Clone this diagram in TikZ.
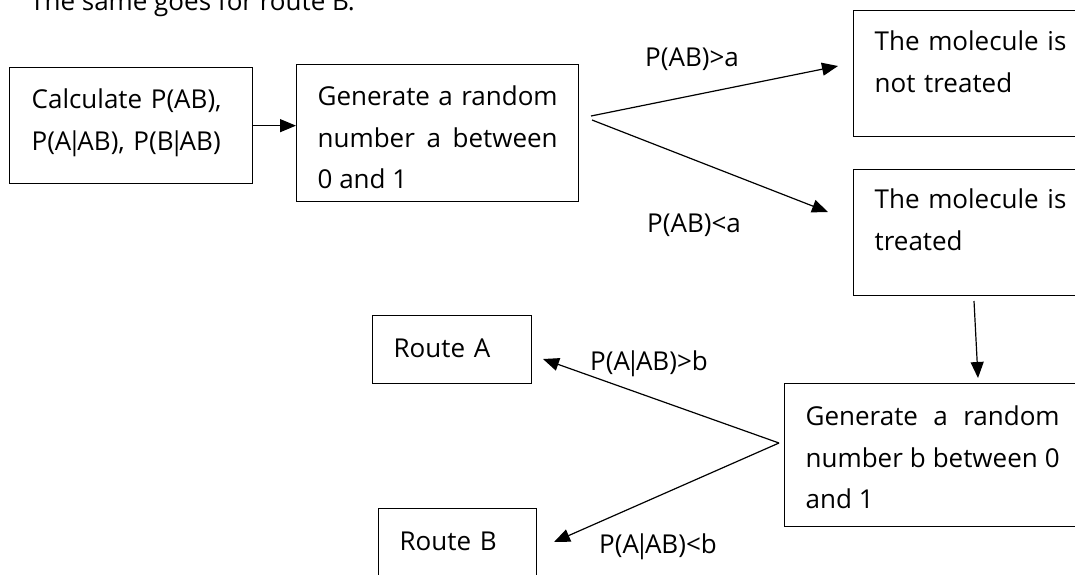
\documentclass[tikz,border=0pt]{standalone}
\usepackage{fontspec}
\setmainfont{Open Sans}
\usetikzlibrary{arrows.meta}
\newcommand\topS[1]{\rule{0pt}{#1pt}}
\newcommand\botS[1]{\rule[-#1pt]{0pt}{#1pt}}
\newcommand\vb{\makebox[6pt]{|}}
\tikzset{
  box/.style={draw, line width=1.3pt, inner xsep=21pt, inner ysep=0pt, anchor=north west,
              font=\fontsize{26}{41.5}\selectfont},
  lbl/.style={inner sep=0pt, anchor=base west, font=\fontsize{26}{41.5}\selectfont},
  arr/.style={line width=1.2pt, -{Triangle[length=16pt,width=13pt]}},
}
\begin{document}
\begin{tikzpicture}[x=1pt,y=-1pt]
\useasboundingbox (0,0) rectangle (1075,574);
\clip (0,0) rectangle (1075,574);
\fill[white] (0,0) rectangle (1075,574);

\node[lbl] (note) at (30,10) {The same goes for route B.};

\node[box, inner xsep=22pt, text width=199pt, align=left] (calc) at (9,67)
  {\topS{41}\mbox{Calculate P(AB),}\\\mbox{P(A\vb AB), P(B\vb AB)}\botS{33.5}};
\node[box, text width=240pt, align=justify] (gena) at (296,64)
  {\topS{41}Generate a random\linebreak number a between\linebreak 0 and 1\botS{13}};
\node[box, text width=205pt, align=left] (nottr) at (853,10)
  {\topS{40}The molecule is\\not treated\botS{44}};
\node[box, text width=205pt, align=left] (tr) at (853,169)
  {\topS{39}The molecule is\\treated\botS{45}};
\node[box, text width=254pt, align=justify] (genb) at (784,383)
  {\topS{42}Generate a random\linebreak number b between 0\linebreak and 1\botS{18}};
\node[box, text width=117pt, align=left] (ra) at (372,315)
  {\topS{42}Route A\botS{26}};
\node[box, text width=116pt, align=left] (rb) at (378,508)
  {\topS{42}Route B\botS{60}};

\node[lbl] (l1) at (645,66) {P(AB)>a};
\node[lbl] (l2) at (647,232) {P(AB)<a};
\node[lbl] (l3) at (590,370) {P(A\vb AB)>b};
\node[lbl] (l4) at (599,553) {P(A\vb AB)<b};

\coordinate (s1a) at (591,116);
\coordinate (s1b) at (592,120);
\coordinate (t1) at (838,66);
\coordinate (t2) at (828,212);
\coordinate (d1) at (974,301);
\coordinate (d2) at (978,378);
\coordinate (s2) at (779,443);
\coordinate (t3) at (543,359);
\coordinate (t4) at (554,542);

\draw[arr] (calc.east) -- (calc.east -| gena.west);
\draw[arr] (s1a) -- (t1);
\draw[arr] (s1b) -- (t2);
\draw[arr] (d1) -- (d2);
\draw[arr] (s2) -- (t3);
\draw[arr] (s2) -- (t4);
\end{tikzpicture}
\end{document}
